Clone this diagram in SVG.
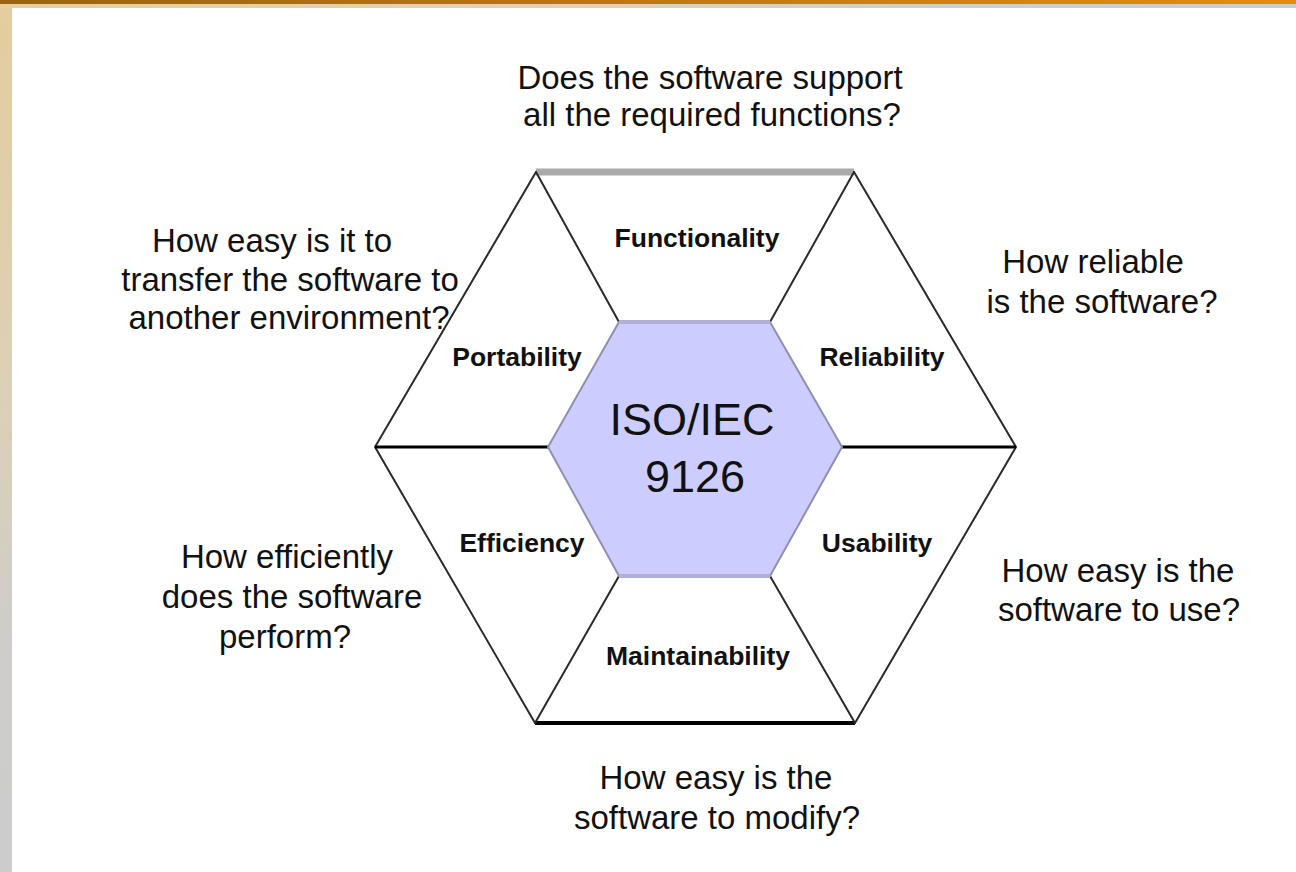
<svg xmlns="http://www.w3.org/2000/svg" width="1296" height="872" viewBox="0 0 1296 872">
<defs>
<linearGradient id="topbar" x1="0" y1="0" x2="1" y2="0">
<stop offset="0" stop-color="#9c6410"/>
<stop offset="0.5" stop-color="#c07810"/>
<stop offset="1" stop-color="#e88c0c"/>
</linearGradient>
<linearGradient id="topband" x1="0" y1="0" x2="1" y2="0">
<stop offset="0" stop-color="#e6cf9e"/>
<stop offset="0.45" stop-color="#e3d2ad"/>
<stop offset="0.85" stop-color="#cdcdcd"/>
<stop offset="1" stop-color="#cccccc"/>
</linearGradient>
<linearGradient id="leftband" x1="0" y1="0" x2="0" y2="1">
<stop offset="0" stop-color="#e4cd9d"/>
<stop offset="0.45" stop-color="#dcd0b6"/>
<stop offset="0.75" stop-color="#cecdcb"/>
<stop offset="1" stop-color="#cccccc"/>
</linearGradient>
</defs>
<style>
.q{font-family:"Liberation Sans",Arial,sans-serif;font-size:33px;fill:#111;text-anchor:middle}
.lbl{font-family:"Liberation Sans",Arial,sans-serif;font-size:26.5px;font-weight:bold;fill:#111;text-anchor:middle}
.ctr{font-family:"Liberation Sans",Arial,sans-serif;font-size:45px;fill:#111;text-anchor:middle}
.edge{stroke:#2a2a2a;stroke-width:2;fill:none;stroke-linecap:round}
.spoke{stroke:#000;stroke-width:3;fill:none}
</style>
<rect x="0" y="0" width="1296" height="872" fill="#ffffff"/>
<g id="frame">
<rect x="0" y="0" width="12" height="872" fill="url(#leftband)"/>
<rect x="0" y="4" width="1296" height="4" fill="url(#topband)"/>
<rect x="0" y="0" width="1296" height="4" fill="url(#topbar)"/>
</g>
<g id="connectors">
<line x1="536" y1="172" x2="854" y2="172" stroke="#aaaaaa" stroke-width="7"/>
<line x1="535" y1="723" x2="855" y2="723" stroke="#000" stroke-width="4"/>
<polyline class="edge" points="536,172 375,447 535,723"/>
<polyline class="edge" points="854,172 1016,447 855,723"/>
<line class="edge" x1="619" y1="322" x2="536" y2="172"/>
<line class="edge" x1="770" y1="322" x2="854" y2="172"/>
<line class="edge" x1="770" y1="576" x2="855" y2="723"/>
<line class="edge" x1="619" y1="576" x2="535" y2="723"/>
<line class="spoke" x1="375" y1="447" x2="548" y2="447"/>
<line class="spoke" x1="842" y1="447" x2="1016" y2="447"/>
</g>
<g id="center">
<polygon points="619,322 770,322 842,447 770,576 619,576 548,447" fill="#ccccff" stroke="#8f8fb0" stroke-width="2"/>
<line x1="619" y1="322" x2="770" y2="322" stroke="#b0b0d6" stroke-width="4"/>
<line x1="619" y1="576" x2="770" y2="576" stroke="#b0b0d6" stroke-width="4"/>
<text class="ctr" x="692" y="435">ISO/IEC</text>
<text class="ctr" x="695" y="492">9126</text>
</g>
<g id="functionality">
<text class="lbl" x="697" y="247">Functionality</text>
<text class="q" x="710" y="89">Does the software support</text>
<text class="q" x="712" y="126">all the required functions?</text>
</g>
<g id="portability">
<text class="lbl" x="517" y="366">Portability</text>
<text class="q" x="272" y="252">How easy is it to</text>
<text class="q" x="290" y="291">transfer the software to</text>
<text class="q" x="289" y="329">another environment?</text>
</g>
<g id="reliability">
<text class="lbl" x="882" y="366">Reliability</text>
<text class="q" x="1093" y="273">How reliable</text>
<text class="q" x="1102" y="313">is the software?</text>
</g>
<g id="efficiency">
<text class="lbl" x="522" y="552">Efficiency</text>
<text class="q" x="287" y="568">How efficiently</text>
<text class="q" x="292" y="608">does the software</text>
<text class="q" x="285" y="648">perform?</text>
</g>
<g id="usability">
<text class="lbl" x="877" y="552">Usability</text>
<text class="q" x="1118" y="582">How easy is the</text>
<text class="q" x="1119" y="621">software to use?</text>
</g>
<g id="maintainability">
<text class="lbl" x="698" y="665">Maintainability</text>
<text class="q" x="716" y="789">How easy is the</text>
<text class="q" x="717" y="829">software to modify?</text>
</g>
</svg>
